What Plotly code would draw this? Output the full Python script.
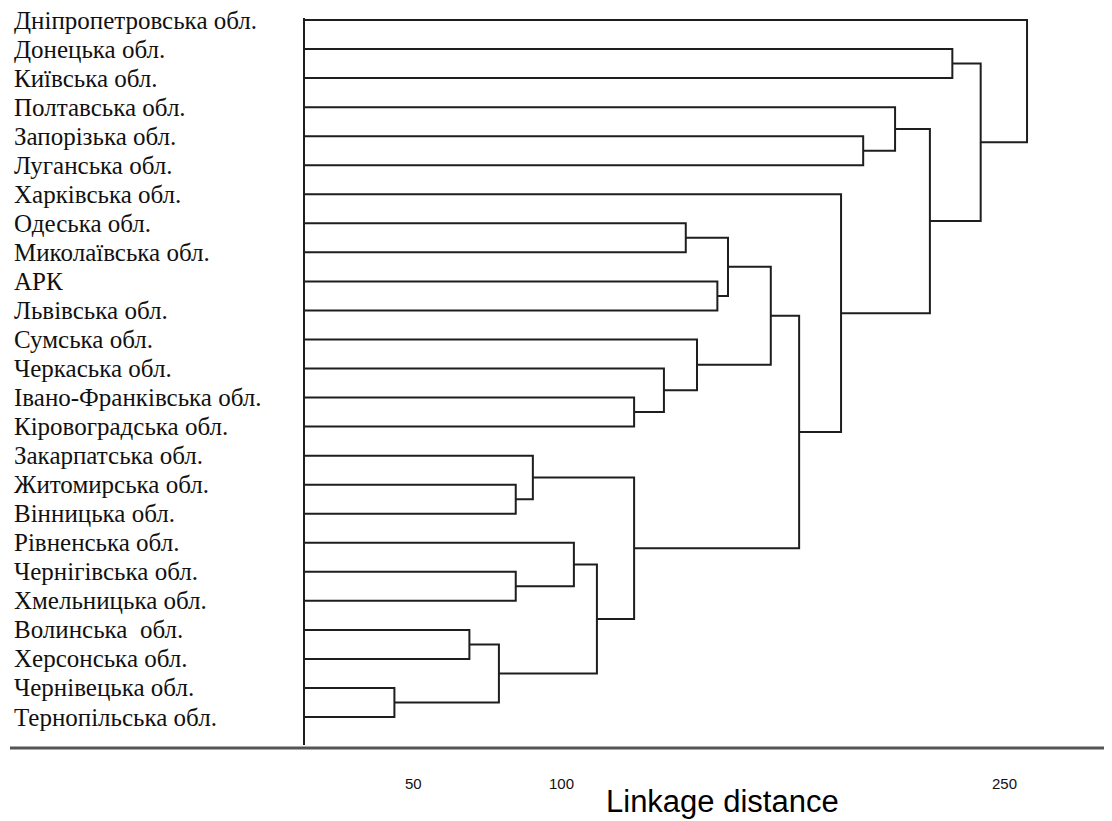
import plotly.graph_objects as go

# Leaf labels, top to bottom
regions = [
    "Дніпропетровська обл.", "Донецька обл.", "Київська обл.", "Полтавська обл.",
    "Запорізька обл.", "Луганська обл.", "Харківська обл.", "Одеська обл.",
    "Миколаївська обл.", "АРК", "Львівська обл.", "Сумська обл.",
    "Черкаська обл.", "Івано-Франківська обл.", "Кіровоградська обл.",
    "Закарпатська обл.", "Житомирська обл.", "Вінницька обл.", "Рівненська обл.",
    "Чернігівська обл.", "Хмельницька обл.", "Волинська  обл.", "Херсонська обл.",
    "Чернівецька обл.", "Тернопільська обл.",
]

# Linkage: node ids 0..24 are leaves, merge k creates node 25+k
merge_left = [23, 21, 26, 16, 19, 15, 18, 31, 30, 13, 12, 7, 11, 9, 36, 39, 40, 6, 4, 3, 44, 1, 46, 0]
merge_right = [24, 22, 25, 17, 20, 28, 29, 27, 32, 14, 34, 8, 35, 10, 38, 37, 33, 41, 5, 43, 42, 2, 45, 47]
merge_height = [43.5, 68.9, 78.9, 84.6, 84.6, 90.4, 104.3, 112.1, 124.7, 124.7, 134.8, 142.2,
                146.0, 152.9, 156.5, 171.0, 180.6, 194.8, 202.3, 213.1, 224.9, 232.5, 242.1, 257.8]

tick_values = [50, 100, 250]
tick_labels = ["50", "100", "250"]
axis_title = "Linkage distance"

n = len(regions)
node_y = {i: float(i) for i in range(n)}
node_h = {i: 0.0 for i in range(n)}

xs, ys = [], []
for k, (a, b, h) in enumerate(zip(merge_left, merge_right, merge_height)):
    xs += [node_h[a], h, h, node_h[b], None]
    ys += [node_y[a], node_y[a], node_y[b], node_y[b], None]
    node_y[n + k] = (node_y[a] + node_y[b]) / 2
    node_h[n + k] = h

fig = go.Figure()
fig.add_trace(go.Scatter(x=xs, y=ys, mode="lines",
                         line=dict(color="#1e1e1e", width=2),
                         hoverinfo="skip", showlegend=False))

# the page places the figure 8px from the top-left corner
OFF = 8
W, H = 1112 - OFF, 821 - OFF


def px(v):
    return v - OFF


L, R, T = px(305), 0, px(18)
plot_bottom = px(745)
B = H - plot_bottom
pw = W - L - R
ph = plot_bottom - T

# x scale: distance -> page pixel  (0 at 266 px, 2.952 px per unit)
px0, ppu = px(266.0), 2.952
x_min = (L - px0) / ppu
x_max = (W - R - px0) / ppu
# y scale: leaf index -> page pixel (leaf 0 at 20 px, leaf 24 at 717 px)
ppl = (717 - 20) / 24
y_top = -(px(20) - T) / ppl
y_bot = y_top + ph / ppl


def xpaper(p):
    return (px(p) - L) / pw


def ypaper(p):
    return -(px(p) - plot_bottom) / ph


annotations = []
for i, name in enumerate(regions):
    annotations.append(dict(
        text=name, xref="paper", yref="y", x=xpaper(12), y=i,
        xanchor="left", yanchor="middle", showarrow=False,
        font=dict(family="Liberation Serif", size=25, color="#111"),
    ))
for v, t in zip(tick_values, tick_labels):
    annotations.append(dict(
        text=t, xref="x", yref="paper", x=v, y=ypaper(783),
        xanchor="center", yanchor="middle", showarrow=False,
        font=dict(family="Liberation Sans", size=15, color="#111"),
    ))
annotations.append(dict(
    text=axis_title, xref="paper", yref="paper", x=xpaper(722),
    y=ypaper(801), xanchor="center", yanchor="middle", showarrow=False,
    font=dict(family="Liberation Sans", size=31, color="#000"),
))

fig.update_layout(
    width=W, height=H,
    margin=dict(l=L, r=R, t=T, b=B, pad=0),
    paper_bgcolor="white", plot_bgcolor="white",
    xaxis=dict(range=[x_min, x_max], showgrid=False, zeroline=False,
               showticklabels=False, ticks="", showline=False),
    yaxis=dict(range=[y_bot, y_top], showgrid=False, zeroline=False,
               showticklabels=False, ticks="", showline=True,
               linecolor="#1e1e1e", linewidth=2, mirror=False),
    annotations=annotations,
    shapes=[dict(type="line", xref="paper", yref="paper",
                 x0=xpaper(10), x1=1.0,
                 y0=ypaper(748), y1=ypaper(748),
                 line=dict(color="#555", width=3))],
)

fig.write_html("out.html")
